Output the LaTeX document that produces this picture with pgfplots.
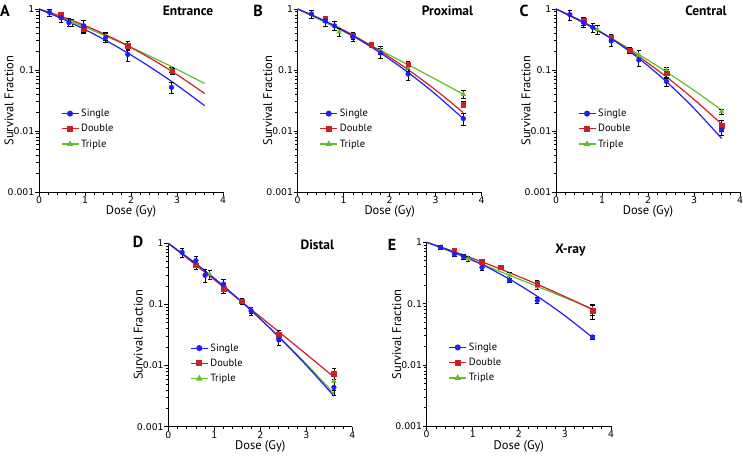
\documentclass[border=0pt]{standalone}
\usepackage{pgfplots}
\pgfplotsset{compat=1.18}
\usepackage{fontspec}
\setmainfont{PT Sans}
\newfontfamily\tickfont{DejaVu Sans}
\definecolor{sblue}{RGB}{30,30,245}
\definecolor{sred}{RGB}{204,32,39}
\definecolor{sgreen}{RGB}{100,190,40}
\newcommand{\beginpanel}[1]{\begin{axis}[
    scale only axis, width=184pt, height=183pt, anchor=south west,
    ymode=log, xmin=0, xmax=4, ymin=0.001, ymax=1,
    axis lines=left, axis line style={-, line width=0.9pt},
    xtick={0,1,2,3,4}, minor x tick num=4,
    ytick={0.001,0.01,0.1,1}, yticklabels={0.001,0.01,0.1,1},
    tick align=outside, major tick length=4pt, minor tick length=2.5pt,
    tick style={black, line width=0.8pt},
    xticklabel style={font=\tickfont\fontsize{9.3}{10}\selectfont, /pgf/number format/assume math mode=true, inner sep=0.5pt},
    yticklabel style={font=\tickfont\fontsize{9.3}{10}\selectfont, inner sep=0.5pt},
    xlabel={Dose (Gy)}, ylabel={Survival Fraction},
    xlabel style={at={(rel axis cs:0.5,-0.108)}, anchor=center, font=\fontsize{12.5}{14}\selectfont},
    ylabel style={at={(rel axis cs:-0.163,0.5)}, anchor=center, font=\fontsize{12.5}{14}\selectfont},
    clip=false,
    legend style={at={(rel axis cs:0.118,0.465)}, anchor=north west, draw=none, fill=none,
      font=\fontsize{10.5}{12}\selectfont, row sep=2.3pt, inner sep=0pt},
    legend cell align=left,
    #1]}
\pgfplotsset{
  cfitline/.style={line width=1.2pt, smooth, forget plot},
  ptsmarks/.style={only marks, forget plot, mark size=2.4pt,
    error bars/y dir=both, error bars/y explicit,
    error bars/error bar style={black, line width=0.8pt},
    error bars/error mark options={black, rotate=90, mark size=2.2pt, line width=0.8pt}},
}
\newcommand{\legs}{%
  \addlegendimage{sblue, line width=1.2pt, mark=*, mark size=2.4pt}\addlegendentry{Single}
  \addlegendimage{sred, line width=1.2pt, mark=square*, mark size=2.3pt}\addlegendentry{Double}
  \addlegendimage{sgreen, line width=1.2pt, mark=triangle*, mark size=2.6pt}\addlegendentry{Triple}}
\newcommand{\ttl}{\bfseries\fontsize{13.5}{15}\selectfont}
\newcommand{\ltr}{\bfseries\fontsize{16}{18}\selectfont}
\begin{document}
\begin{tikzpicture}
\useasboundingbox (0,0) rectangle (743pt,456pt);
% ---------- A ----------
\beginpanel{at={(39pt,264pt)}}
\legs
\addplot[sgreen,cfitline] coordinates {(0,1)(0.6,0.668)(1.2,0.435)(1.8,0.276)(2.4,0.170)(3.0,0.1026)(3.6,0.0601)};
\addplot[sred,cfitline] coordinates {(0,1)(0.6,0.705)(1.2,0.461)(1.8,0.281)(2.4,0.159)(3.0,0.0840)(3.6,0.0412)};
\addplot[sblue,cfitline] coordinates {(0,1)(0.6,0.642)(1.2,0.386)(1.8,0.217)(2.4,0.114)(3.0,0.0563)(3.6,0.0260)};
\addplot[ptsmarks, sgreen, mark=triangle*, mark size=2.6pt] coordinates {(0.72,0.60)+-(0,0.08) (1.45,0.36)+-(0,0.05) (1.93,0.24)+-(0,0.03) (2.88,0.10)+-(0,0.01)};
\addplot[ptsmarks, sred, mark=square*, mark size=2.3pt] coordinates {(0.47,0.80)+-(0,0.08) (0.97,0.48)+-(0,0.07) (1.93,0.25)+-(0,0.04) (2.9,0.096)+-(0,0.012)};
\addplot[ptsmarks, sblue, mark=*] coordinates {(0.23,0.88)+-(0,0.11) (0.48,0.72)+-(0,0.12) (0.65,0.60)+-(0,0.09) (0.97,0.53)+-(0,0.13) (1.45,0.34)+-(0,0.06) (1.93,0.18)+-(0,0.04) (2.88,0.052)+-(0,0.011)};
\node[font=\ttl] at (rel axis cs:0.81,0.99) {Entrance};
\end{axis}
% ---------- B ----------
\beginpanel{at={(297.7pt,264pt)}}
\legs
\addplot[sgreen,cfitline] coordinates {(0,1)(0.6,0.601)(1.2,0.357)(1.8,0.210)(2.4,0.122)(3.0,0.0703)(3.6,0.0400)};
\addplot[sred,cfitline] coordinates {(0,1)(0.6,0.635)(1.2,0.373)(1.8,0.202)(2.4,0.1013)(3.0,0.0469)(3.6,0.0200)};
\addplot[sblue,cfitline] coordinates {(0,1)(0.6,0.629)(1.2,0.362)(1.8,0.190)(2.4,0.0911)(3.0,0.0399)(3.6,0.0159)};
\addplot[ptsmarks, sgreen, mark=triangle*, mark size=2.6pt] coordinates {(0.9,0.42)+-(0,0.06) (1.8,0.21)+-(0,0.03) (2.4,0.108)+-(0,0.012) (3.6,0.040)+-(0,0.006)};
\addplot[ptsmarks, sred, mark=square*, mark size=2.3pt] coordinates {(0.6,0.69)+-(0,0.08) (1.2,0.37)+-(0,0.05) (1.6,0.26)+-(0,0.02) (2.4,0.125)+-(0,0.015) (3.6,0.027)+-(0,0.003)};
\addplot[ptsmarks, sblue, mark=*] coordinates {(0.3,0.83)+-(0,0.12) (0.6,0.64)+-(0,0.12) (0.8,0.53)+-(0,0.09) (1.2,0.35)+-(0,0.06) (1.8,0.19)+-(0,0.035) (2.4,0.086)+-(0,0.018) (3.6,0.016)+-(0,0.0035)};
\node[font=\ttl] at (rel axis cs:0.814,0.99) {Proximal};
\end{axis}
% ---------- C ----------
\beginpanel{at={(556pt,264pt)}}
\legs
\addplot[sgreen,cfitline] coordinates {(0,1)(0.6,0.590)(1.2,0.333)(1.8,0.180)(2.4,0.0933)(3.0,0.0463)(3.6,0.0220)};
\addplot[sred,cfitline] coordinates {(0,1)(0.6,0.596)(1.2,0.328)(1.8,0.166)(2.4,0.0771)(3.0,0.0330)(3.6,0.0130)};
\addplot[sblue,cfitline] coordinates {(0,1)(0.6,0.610)(1.2,0.328)(1.8,0.155)(2.4,0.0644)(3.0,0.0235)(3.6,0.00756)};
\addplot[ptsmarks, sgreen, mark=triangle*, mark size=2.6pt] coordinates {(0.9,0.46)+-(0,0.07) (1.8,0.176)+-(0,0.03) (2.4,0.10)+-(0,0.012) (3.6,0.021)+-(0,0.002)};
\addplot[ptsmarks, sred, mark=square*, mark size=2.3pt] coordinates {(0.6,0.64)+-(0,0.1) (1.2,0.34)+-(0,0.04) (1.6,0.21)+-(0,0.025) (2.4,0.088)+-(0,0.015) (3.6,0.0122)+-(0,0.0025)};
\addplot[ptsmarks, sblue, mark=*] coordinates {(0.3,0.81)+-(0,0.15) (0.6,0.60)+-(0,0.1) (0.8,0.50)+-(0,0.08) (1.2,0.30)+-(0,0.06) (1.8,0.146)+-(0,0.03) (2.4,0.065)+-(0,0.012) (3.6,0.0104)+-(0,0.002)};
\node[font=\ttl] at (rel axis cs:0.815,0.99) {Central};
\end{axis}
% ---------- D ----------
\beginpanel{at={(168.3pt,29.3pt)}, height=183.4pt}
\legs
\addplot[sgreen,cfitline] coordinates {(0,1)(0.6,0.461)(1.2,0.1985)(1.8,0.0800)(2.4,0.0301)(3.0,0.01062)(3.6,0.00350)};
\addplot[sred,cfitline] coordinates {(0,1)(0.6,0.440)(1.2,0.192)(1.8,0.0832)(2.4,0.0358)(3.0,0.01531)(3.6,0.00650)};
\addplot[sblue,cfitline] coordinates {(0,1)(0.6,0.465)(1.2,0.2005)(1.8,0.0799)(2.4,0.0295)(3.0,0.01009)(3.6,0.00319)};
\addplot[ptsmarks, sgreen, mark=triangle*, mark size=2.6pt] coordinates {(0.9,0.31)+-(0,0.05) (1.8,0.081)+-(0,0.01) (2.4,0.0295)+-(0,0.005) (3.6,0.0055)+-(0,0.0015)};
\addplot[ptsmarks, sred, mark=square*, mark size=2.3pt] coordinates {(0.6,0.44)+-(0,0.06) (1.2,0.18)+-(0,0.03) (1.6,0.113)+-(0,0.012) (2.4,0.032)+-(0,0.005) (3.6,0.0074)+-(0,0.0015)};
\addplot[ptsmarks, sblue, mark=*] coordinates {(0.3,0.71)+-(0,0.12) (0.6,0.52)+-(0,0.1) (0.8,0.30)+-(0,0.07) (1.2,0.215)+-(0,0.04) (1.8,0.079)+-(0,0.012) (2.4,0.027)+-(0,0.006) (3.6,0.0044)+-(0,0.0012)};
\node[font=\ttl] at (rel axis cs:0.81,0.99) {Distal};
\end{axis}
% ---------- E ----------
\beginpanel{at={(426.7pt,29.7pt)}, width=184.3pt, height=184pt}
\legs
\addplot[sgreen,cfitline] coordinates {(0,1)(0.6,0.662)(1.2,0.438)(1.8,0.289)(2.4,0.1905)(3.0,0.1254)(3.6,0.0824)};
\addplot[sred,cfitline] coordinates {(0,1)(0.6,0.702)(1.2,0.480)(1.8,0.319)(2.4,0.2066)(3.0,0.1302)(3.6,0.0799)};
\addplot[sblue,cfitline] coordinates {(0,1)(0.6,0.689)(1.2,0.434)(1.8,0.250)(2.4,0.1317)(3.0,0.0635)(3.6,0.0280)};
\addplot[ptsmarks, sgreen, mark=triangle*, mark size=2.6pt] coordinates {(0.9,0.54)+-(0,0.06) (1.8,0.29)+-(0,0.03) (2.4,0.19)+-(0,0.02) (3.6,0.08)+-(0,0.015)};
\addplot[ptsmarks, sred, mark=square*, mark size=2.3pt] coordinates {(0.6,0.74)+-(0,0.06) (1.2,0.48)+-(0,0.05) (1.6,0.39)+-(0,0.03) (2.4,0.21)+-(0,0.025) (3.6,0.076)+-(0,0.02)};
\addplot[ptsmarks, sblue, mark=*] coordinates {(0.3,0.83)+-(0,0.05) (0.6,0.64)+-(0,0.05) (0.8,0.58)+-(0,0.05) (1.2,0.39)+-(0,0.04) (1.8,0.24)+-(0,0.02) (2.4,0.113)+-(0,0.012) (3.6,0.0286)+-(0,0.002)};
\node[font=\ttl] at (rel axis cs:0.78,0.96) {X-ray};
\end{axis}
% panel letters
\node[font=\ltr] at (5pt,445pt) {A};
\node[font=\ltr] at (258pt,445pt) {B};
\node[font=\ltr] at (524pt,445pt) {C};
\node[font=\ltr] at (138pt,214pt) {D};
\node[font=\ltr] at (392pt,211pt) {E};
\end{tikzpicture}
\end{document}
